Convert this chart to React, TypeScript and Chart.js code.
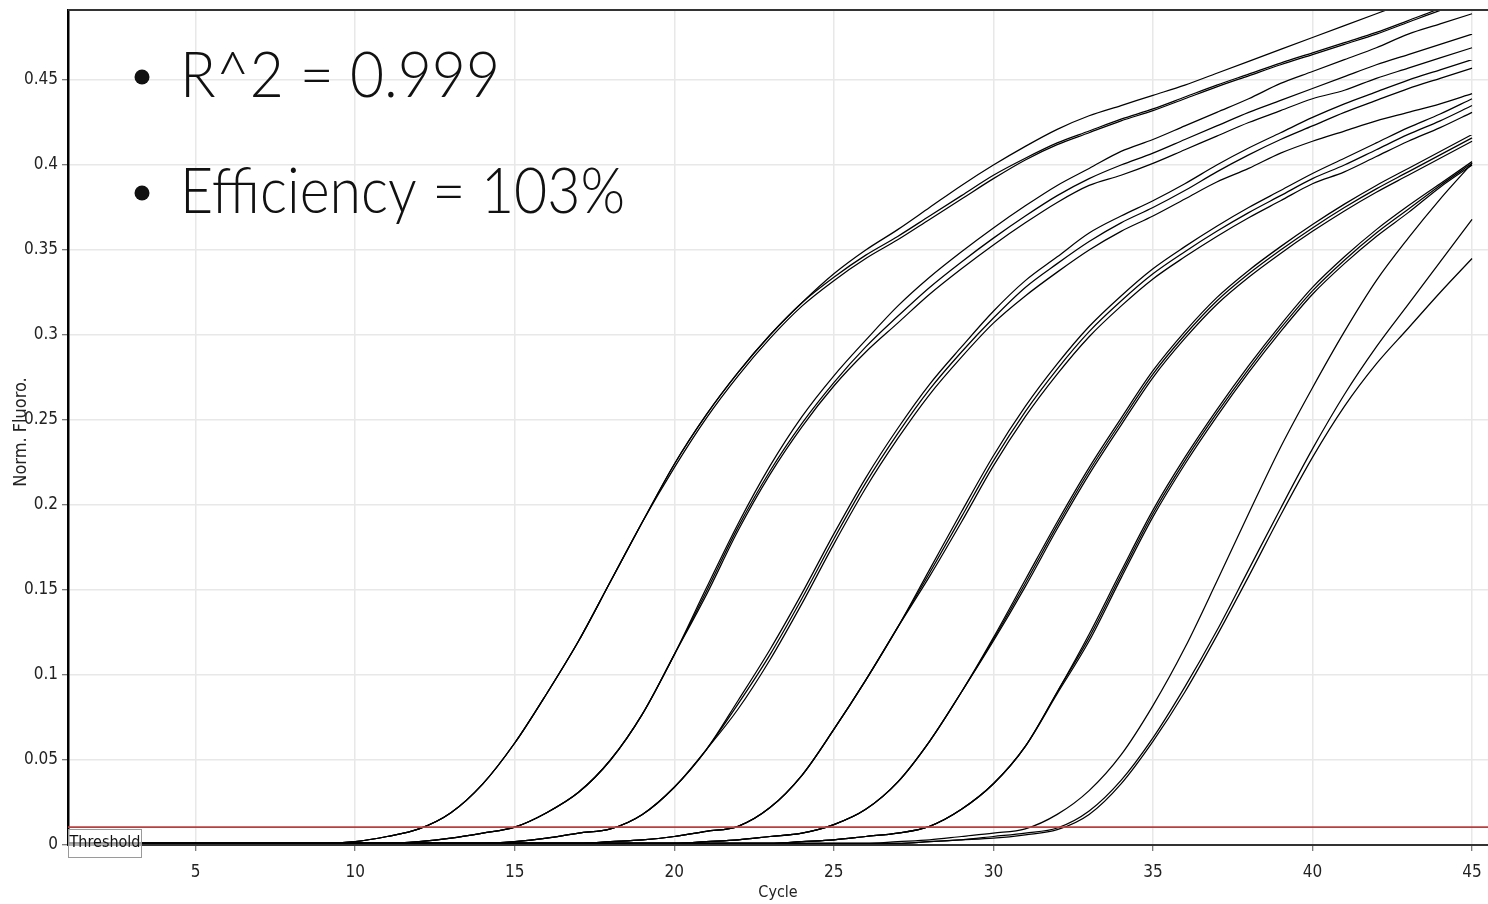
import React, { useEffect, useRef } from "react";
import { Chart, registerables } from "chart.js";

Chart.register(...registerables);

// ---------- data ----------
const cycles = [1, 2, 3, 4, 5, 6, 7, 8, 9, 10, 11, 12, 13, 14, 15, 16, 17, 18, 19, 20, 21, 22, 23, 24, 25, 26, 27, 28, 29, 30, 31, 32, 33, 34, 35, 36, 37, 38, 39, 40, 41, 42, 43, 44, 45];
const xTicks = [5, 10, 15, 20, 25, 30, 35, 40, 45];
const yTicks = [0, 0.05, 0.1, 0.15, 0.2, 0.25, 0.3, 0.35, 0.4, 0.45];
const xMin = 1;
const xMax = 45.5;
const yMin = 0;
const yMax = 0.4912;
const thresholdValue = 0.0105;

// Group 1 (Ct ~12)
const g1a = [0.001, 0.001, 0.001, 0.001, 0.001, 0.001, 0.001, 0.001, 0.001, 0.002, 0.005, 0.0095, 0.019, 0.036, 0.060, 0.089, 0.120, 0.155, 0.190, 0.224, 0.253, 0.278, 0.300, 0.319, 0.336, 0.350, 0.362, 0.375, 0.388, 0.400, 0.411, 0.421, 0.429, 0.435, 0.441, 0.447, 0.454, 0.461, 0.468, 0.475, 0.482, 0.489, 0.496, 0.503, 0.510];
const g1b = [0.001, 0.001, 0.001, 0.001, 0.001, 0.001, 0.001, 0.001, 0.001, 0.002, 0.005, 0.0095, 0.019, 0.036, 0.060, 0.089, 0.120, 0.155, 0.190, 0.224, 0.253, 0.278, 0.300, 0.319, 0.334, 0.347, 0.358, 0.370, 0.382, 0.394, 0.404, 0.413, 0.420, 0.427, 0.433, 0.440, 0.447, 0.4535, 0.460, 0.466, 0.472, 0.478, 0.485, 0.492, 0.498];
const g1c = [0.001, 0.001, 0.001, 0.001, 0.001, 0.001, 0.001, 0.001, 0.001, 0.002, 0.005, 0.0095, 0.019, 0.036, 0.060, 0.089, 0.120, 0.155, 0.190, 0.222, 0.251, 0.276, 0.298, 0.317, 0.332, 0.345, 0.356, 0.368, 0.380, 0.392, 0.403, 0.412, 0.419, 0.426, 0.432, 0.439, 0.446, 0.4525, 0.459, 0.465, 0.471, 0.477, 0.484, 0.491, 0.497];
// Group 2 (Ct ~15)
const g2a = [0.001, 0.001, 0.001, 0.001, 0.001, 0.001, 0.001, 0.001, 0.001, 0.001, 0.001, 0.002, 0.004, 0.007, 0.0105, 0.019, 0.031, 0.050, 0.077, 0.112, 0.151, 0.189, 0.223, 0.252, 0.276, 0.297, 0.317, 0.334, 0.349, 0.363, 0.376, 0.388, 0.398, 0.408, 0.415, 0.423, 0.431, 0.439, 0.448, 0.455, 0.462, 0.469, 0.477, 0.483, 0.489];
const g2b = [0.001, 0.001, 0.001, 0.001, 0.001, 0.001, 0.001, 0.001, 0.001, 0.001, 0.001, 0.002, 0.004, 0.007, 0.0105, 0.019, 0.031, 0.050, 0.077, 0.112, 0.149, 0.187, 0.220, 0.248, 0.272, 0.293, 0.311, 0.328, 0.343, 0.357, 0.370, 0.382, 0.392, 0.400, 0.407, 0.415, 0.423, 0.431, 0.438, 0.445, 0.452, 0.459, 0.465, 0.471, 0.477];
const g2c = [0.001, 0.001, 0.001, 0.001, 0.001, 0.001, 0.001, 0.001, 0.001, 0.001, 0.001, 0.002, 0.004, 0.007, 0.0105, 0.019, 0.031, 0.050, 0.077, 0.112, 0.147, 0.185, 0.218, 0.246, 0.270, 0.290, 0.307, 0.324, 0.339, 0.353, 0.366, 0.378, 0.388, 0.394, 0.401, 0.409, 0.417, 0.425, 0.432, 0.439, 0.444, 0.451, 0.457, 0.463, 0.469];
// Group 3 (Ct ~18)
const g3a = [0.001, 0.001, 0.001, 0.001, 0.001, 0.001, 0.001, 0.001, 0.001, 0.001, 0.001, 0.001, 0.001, 0.001, 0.002, 0.004, 0.007, 0.0095, 0.018, 0.034, 0.056, 0.085, 0.115, 0.148, 0.183, 0.216, 0.245, 0.271, 0.293, 0.314, 0.332, 0.346, 0.360, 0.370, 0.379, 0.389, 0.400, 0.410, 0.419, 0.428, 0.436, 0.443, 0.450, 0.456, 0.462];
const g3b = [0.001, 0.001, 0.001, 0.001, 0.001, 0.001, 0.001, 0.001, 0.001, 0.001, 0.001, 0.001, 0.001, 0.001, 0.002, 0.004, 0.007, 0.0095, 0.018, 0.034, 0.056, 0.083, 0.112, 0.145, 0.180, 0.213, 0.242, 0.268, 0.290, 0.310, 0.328, 0.342, 0.355, 0.366, 0.375, 0.385, 0.396, 0.406, 0.415, 0.423, 0.431, 0.438, 0.445, 0.451, 0.457];
const g3c = [0.001, 0.001, 0.001, 0.001, 0.001, 0.001, 0.001, 0.001, 0.001, 0.001, 0.001, 0.001, 0.001, 0.001, 0.002, 0.004, 0.007, 0.0095, 0.018, 0.034, 0.056, 0.080, 0.109, 0.142, 0.177, 0.210, 0.239, 0.265, 0.287, 0.307, 0.323, 0.337, 0.350, 0.361, 0.370, 0.380, 0.390, 0.398, 0.407, 0.414, 0.420, 0.426, 0.431, 0.436, 0.442];
// Group 4 (Ct ~22)
const g4a = [0.001, 0.001, 0.001, 0.001, 0.001, 0.001, 0.001, 0.001, 0.001, 0.001, 0.001, 0.001, 0.001, 0.001, 0.001, 0.001, 0.001, 0.002, 0.003, 0.005, 0.008, 0.011, 0.022, 0.041, 0.068, 0.097, 0.128, 0.162, 0.196, 0.229, 0.258, 0.283, 0.305, 0.323, 0.339, 0.352, 0.364, 0.375, 0.385, 0.395, 0.404, 0.413, 0.422, 0.430, 0.439];
const g4b = [0.001, 0.001, 0.001, 0.001, 0.001, 0.001, 0.001, 0.001, 0.001, 0.001, 0.001, 0.001, 0.001, 0.001, 0.001, 0.001, 0.001, 0.002, 0.003, 0.005, 0.008, 0.011, 0.022, 0.041, 0.068, 0.097, 0.128, 0.160, 0.193, 0.226, 0.255, 0.280, 0.302, 0.320, 0.336, 0.349, 0.361, 0.372, 0.382, 0.392, 0.400, 0.409, 0.418, 0.426, 0.435];
const g4c = [0.001, 0.001, 0.001, 0.001, 0.001, 0.001, 0.001, 0.001, 0.001, 0.001, 0.001, 0.001, 0.001, 0.001, 0.001, 0.001, 0.001, 0.002, 0.003, 0.005, 0.008, 0.011, 0.022, 0.041, 0.068, 0.097, 0.128, 0.158, 0.190, 0.223, 0.252, 0.277, 0.299, 0.317, 0.333, 0.346, 0.358, 0.369, 0.379, 0.389, 0.396, 0.405, 0.414, 0.422, 0.431];
// Group 5 (Ct ~25)
const g5a = [0.001, 0.001, 0.001, 0.001, 0.001, 0.001, 0.001, 0.001, 0.001, 0.001, 0.001, 0.001, 0.001, 0.001, 0.001, 0.001, 0.001, 0.001, 0.001, 0.001, 0.002, 0.003, 0.005, 0.007, 0.012, 0.021, 0.037, 0.061, 0.090, 0.122, 0.156, 0.190, 0.222, 0.251, 0.279, 0.302, 0.322, 0.338, 0.352, 0.365, 0.377, 0.388, 0.398, 0.408, 0.418];
const g5b = [0.001, 0.001, 0.001, 0.001, 0.001, 0.001, 0.001, 0.001, 0.001, 0.001, 0.001, 0.001, 0.001, 0.001, 0.001, 0.001, 0.001, 0.001, 0.001, 0.001, 0.002, 0.003, 0.005, 0.007, 0.012, 0.021, 0.037, 0.061, 0.090, 0.121, 0.154, 0.188, 0.220, 0.249, 0.277, 0.300, 0.320, 0.336, 0.350, 0.363, 0.375, 0.386, 0.396, 0.406, 0.416];
const g5c = [0.001, 0.001, 0.001, 0.001, 0.001, 0.001, 0.001, 0.001, 0.001, 0.001, 0.001, 0.001, 0.001, 0.001, 0.001, 0.001, 0.001, 0.001, 0.001, 0.001, 0.002, 0.003, 0.005, 0.007, 0.012, 0.021, 0.037, 0.061, 0.090, 0.120, 0.152, 0.186, 0.218, 0.247, 0.275, 0.298, 0.318, 0.334, 0.348, 0.361, 0.373, 0.384, 0.394, 0.404, 0.414];
// Group 6 (Ct ~28)
const g6a = [0.001, 0.001, 0.001, 0.001, 0.001, 0.001, 0.001, 0.001, 0.001, 0.001, 0.001, 0.001, 0.001, 0.001, 0.001, 0.001, 0.001, 0.001, 0.001, 0.001, 0.001, 0.001, 0.001, 0.002, 0.003, 0.005, 0.007, 0.011, 0.021, 0.036, 0.058, 0.090, 0.124, 0.161, 0.197, 0.228, 0.256, 0.282, 0.306, 0.328, 0.346, 0.362, 0.376, 0.389, 0.402];
const g6b = [0.001, 0.001, 0.001, 0.001, 0.001, 0.001, 0.001, 0.001, 0.001, 0.001, 0.001, 0.001, 0.001, 0.001, 0.001, 0.001, 0.001, 0.001, 0.001, 0.001, 0.001, 0.001, 0.001, 0.002, 0.003, 0.005, 0.007, 0.011, 0.021, 0.036, 0.058, 0.090, 0.122, 0.159, 0.195, 0.226, 0.254, 0.280, 0.304, 0.326, 0.344, 0.360, 0.374, 0.388, 0.401];
const g6c = [0.001, 0.001, 0.001, 0.001, 0.001, 0.001, 0.001, 0.001, 0.001, 0.001, 0.001, 0.001, 0.001, 0.001, 0.001, 0.001, 0.001, 0.001, 0.001, 0.001, 0.001, 0.001, 0.001, 0.002, 0.003, 0.005, 0.007, 0.011, 0.021, 0.036, 0.058, 0.089, 0.120, 0.157, 0.193, 0.224, 0.252, 0.278, 0.302, 0.324, 0.342, 0.358, 0.372, 0.387, 0.400];
// Group 7 (Ct ~31-32)
const g7a = [0.001, 0.001, 0.001, 0.001, 0.001, 0.001, 0.001, 0.001, 0.001, 0.001, 0.001, 0.001, 0.001, 0.001, 0.001, 0.001, 0.001, 0.001, 0.001, 0.001, 0.001, 0.001, 0.001, 0.001, 0.001, 0.001, 0.002, 0.003, 0.005, 0.007, 0.0095, 0.018, 0.032, 0.053, 0.082, 0.116, 0.155, 0.195, 0.234, 0.269, 0.302, 0.332, 0.357, 0.380, 0.401];
const g7b = [0.001, 0.001, 0.001, 0.001, 0.001, 0.001, 0.001, 0.001, 0.001, 0.001, 0.001, 0.001, 0.001, 0.001, 0.001, 0.001, 0.001, 0.001, 0.001, 0.001, 0.001, 0.001, 0.001, 0.001, 0.001, 0.001, 0.001, 0.002, 0.003, 0.005, 0.007, 0.010, 0.020, 0.038, 0.063, 0.093, 0.126, 0.162, 0.198, 0.233, 0.265, 0.293, 0.318, 0.343, 0.368];
const g7c = [0.001, 0.001, 0.001, 0.001, 0.001, 0.001, 0.001, 0.001, 0.001, 0.001, 0.001, 0.001, 0.001, 0.001, 0.001, 0.001, 0.001, 0.001, 0.001, 0.001, 0.001, 0.001, 0.001, 0.001, 0.001, 0.001, 0.001, 0.002, 0.003, 0.004, 0.006, 0.009, 0.018, 0.036, 0.061, 0.090, 0.123, 0.158, 0.194, 0.228, 0.258, 0.283, 0.304, 0.325, 0.345];

const curves = [g1a, g1b, g1c, g2a, g2b, g2c, g3a, g3b, g3c, g4a, g4b, g4c, g5a, g5b, g5c, g6a, g6b, g6c, g7a, g7b, g7c];

const statLines = ["R^2 = 0.999", "Efficiency = 103%"];
const xTitle = "Cycle";
const yTitle = "Norm. Fluoro.";
const thresholdLabel = "Threshold";

const NARROW = "'Liberation Sans Narrow', 'DejaVu Sans Condensed', 'Arial Narrow', sans-serif";
const BIG = "300 63px Lato, 'Open Sans', 'Noto Sans', sans-serif";

export default function App() {
  const ref = useRef<HTMLCanvasElement | null>(null);

  useEffect(() => {
    const canvas = ref.current;
    if (!canvas) return;
    const ctx = canvas.getContext("2d");
    if (!ctx) return;

    const overlay = {
      id: "overlay",
      afterDraw(chart: any) {
        const c = chart.ctx as CanvasRenderingContext2D;
        const a = chart.chartArea;
        c.save();
        // top frame line
        c.strokeStyle = "#333";
        c.lineWidth = 2;
        c.beginPath();
        c.moveTo(a.left, a.top);
        c.lineTo(a.right, a.top);
        c.stroke();

        // axis titles
        c.fillStyle = "#222";
        c.font = `16px ${NARROW}`;
        c.textAlign = "center";
        c.textBaseline = "middle";
        c.fillText(xTitle, (a.left + a.right) / 2, 893);
        c.save();
        c.translate(21, 432);
        c.rotate(-Math.PI / 2);
        c.font = `18px ${NARROW}`;
        c.fillText(yTitle, 0, 0);
        c.restore();

        // threshold label box
        const yT = chart.scales.y.getPixelForValue(yMin);
        c.fillStyle = "rgba(255,255,255,0.62)";
        c.fillRect(a.left, yT - 16, 73, 28);
        c.strokeStyle = "#9a9a9a";
        c.lineWidth = 1;
        c.strokeRect(a.left + 0.5, yT - 16 + 0.5, 73, 28);
        c.fillStyle = "#111";
        c.font = `16px ${NARROW}`;
        c.fillText(thresholdLabel, a.left + 37, yT - 2);

        // big statistics text
        c.fillStyle = "#111";
        c.textAlign = "left";
        c.textBaseline = "alphabetic";
        const targets = [320, 445];
        statLines.forEach((t, i) => {
          const base = 97 + i * 116;
          c.beginPath();
          c.arc(142, base - 20, 7.5, 0, Math.PI * 2);
          c.fill();
          c.font = BIG;
          const w = c.measureText(t).width;
          c.save();
          c.translate(180, base);
          c.scale(targets[i] / w, 1);
          c.fillText(t, 0, 0);
          c.restore();
        });
        c.restore();
      },
    };

    const datasets: any[] = [
      {
        data: [
          { x: xMin, y: thresholdValue },
          { x: xMax, y: thresholdValue },
        ],
        borderColor: "#c43a3a",
        borderWidth: 1.6,
        pointRadius: 0,
        fill: false,
      },
      ...curves.map((vals) => ({
        data: cycles.map((cy, i) => ({ x: cy, y: vals[i] })),
        borderColor: "#000",
        borderWidth: 1.25,
        pointRadius: 0,
        fill: false,
        cubicInterpolationMode: "monotone",
      })),
    ];

    const chart = new Chart(ctx, {
      type: "line",
      data: { datasets },
      options: {
        responsive: false,
        animation: false,
        devicePixelRatio: 1,
        layout: { padding: { top: 10, left: 0, right: 0, bottom: 0 } },
        plugins: { legend: { display: false }, tooltip: { enabled: false } },
        scales: {
          x: {
            type: "linear",
            min: xMin,
            max: xMax,
            afterBuildTicks: (s: any) => {
              s.ticks = xTicks.map((v) => ({ value: v }));
            },
            afterFit: (s: any) => {
              s.height = 59;
              s.paddingLeft = 0;
              s.paddingRight = 0;
            },
            grid: { color: "#e8e8e8", lineWidth: 1.5, tickLength: 6, tickColor: "#555", tickWidth: 1 },
            border: { color: "#333", width: 2 },
            ticks: {
              font: { family: NARROW, size: 17 },
              color: "#222",
              padding: 11,
              maxRotation: 0,
              autoSkip: false,
              callback: (v: any) => String(v),
            },
          },
          y: {
            type: "linear",
            min: yMin,
            max: yMax,
            afterBuildTicks: (s: any) => {
              s.ticks = yTicks.map((v) => ({ value: v }));
            },
            afterFit: (s: any) => {
              s.width = 68;
              s.paddingTop = 0;
              s.paddingBottom = 0;
            },
            grid: { color: "#e8e8e8", lineWidth: 1.5, tickLength: 6, tickColor: "#555", tickWidth: 1 },
            border: { color: "#000", width: 2.5 },
            ticks: {
              font: { family: NARROW, size: 17 },
              color: "#222",
              padding: 4,
              autoSkip: false,
              callback: (v: any) => String(v),
            },
          },
        },
      } as any,
      plugins: [overlay],
    });

    return () => chart.destroy();
  }, []);

  return (
    <div style={{ position: "absolute", left: 0, top: 0, width: 1488, height: 904, background: "#fff" }}>
      <canvas ref={ref} width={1488} height={904} style={{ display: "block", width: 1488, height: 904 }} />
    </div>
  );
}
